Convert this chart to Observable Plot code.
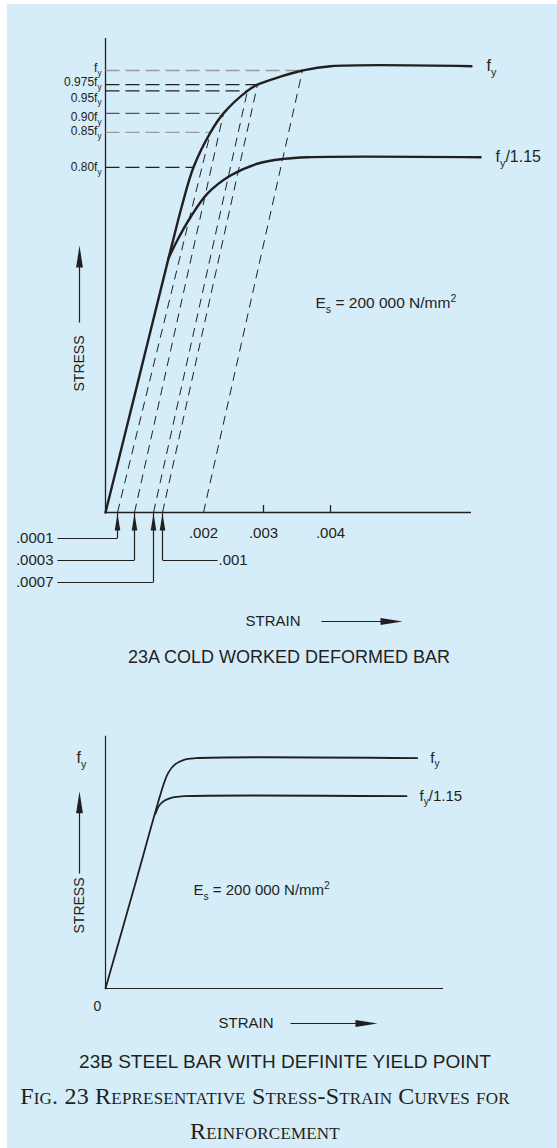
<!DOCTYPE html>
<html><head><meta charset="utf-8">
<script src="https://cdn.jsdelivr.net/npm/d3@7"></script>
<script src="https://cdn.jsdelivr.net/npm/@observablehq/plot@0.6"></script>
<style>
html,body{margin:0;padding:0;background:#fff;}
#page{position:relative;width:557px;height:1148px;overflow:hidden;}
#bg{position:absolute;left:7px;top:4px;width:550px;height:1144px;background:#d5ecf9;}
.chart{position:absolute;left:0;}
.ttl{position:absolute;left:0;text-align:center;font-family:"Liberation Sans",Arial,sans-serif;color:#231f20;white-space:nowrap;}
.cap{position:absolute;left:0;text-align:center;font-family:"Liberation Serif","Times New Roman",serif;font-variant:small-caps;color:#231f20;white-space:nowrap;}
</style></head><body>
<div id="page"><div id="bg"></div>
<div id="chartA" class="chart" style="top:0px"></div>
<div class="ttl" style="top:647px;width:578px;font-size:18px;line-height:20px;">23A COLD WORKED DEFORMED BAR</div>
<div id="chartB" class="chart" style="top:700px"></div>
<div class="ttl" style="top:1051px;width:570px;font-size:19px;line-height:22px;">23B STEEL BAR WITH DEFINITE YIELD POINT</div>
<div class="cap" style="top:1079px;width:530px;font-size:24px;line-height:35px;letter-spacing:0.2px;">Fig. 23 Representative Stress-Strain Curves for<br>Reinforcement</div>
</div>
<script>
// ================= DATA : 23A cold worked deformed bar =================
// strain axis (schematic, unevenly spaced in the drawing)
const aTickStrain = [0.002, 0.003, 0.004];
const aTickLabel  = [".002", ".003", ".004"];
const aTickMarked = [0.003, 0.004];
const aOffsetStrain = [0.0001, 0.0003, 0.0007, 0.001];
const aOffsetLabel  = [".0001", ".0003", ".0007", ".001"];
// stress levels (fraction of the drawn axis height, fy = 1)
const aLevelLabel  = ["f_y", "0.975f_y", "0.95f_y", "0.90f_y", "0.85f_y", "0.80f_y"];
const aLevelStress = [1.0, 0.968, 0.954, 0.903, 0.860, 0.781];
const aLevelStrain = [0.003582, 0.0029, 0.002733, 0.002333, 0.002117, 0.001756];
// curve fy
const aUpperStrain = [0, 0.000353, 0.001146, 0.001256, 0.001463, 0.001756, 0.002117, 0.002333, 0.002733, 0.0029, 0.003254, 0.003582, 0.004, 0.006104];
const aUpperStress = [0, 0.287, 0.575, 0.615, 0.690, 0.781, 0.860, 0.903, 0.954, 0.968, 0.986, 1.0, 1.0097, 1.0097];
// curve fy/1.15
const aLowerStrain = [0.001146, 0.001359, 0.001683, 0.002062, 0.00245, 0.002895, 0.003299, 0.003652, 0.006239];
const aLowerStress = [0.575, 0.6154, 0.668, 0.721, 0.7624, 0.789, 0.800, 0.8038, 0.8038];
// offset (parallel) lines: start strain on axis -> point on the fy curve
const aDiagStart  = [0.0001, 0.0003, 0.0007, 0.001, 0.002];
const aDiagStrain = [0.002117, 0.002333, 0.002733, 0.0029, 0.003582];
const aDiagStress = [0.860, 0.903, 0.954, 0.968, 1.0];
const aCurveLabels = ["f_y", "f_y/1.15"];
const modulusLabel = "E_s = 200 000 N/mm^2";

// ================= DATA : 23B steel bar with definite yield point =================
const bUpperStrain = [0, 0.086, 0.1725, 0.186, 0.205, 0.232, 0.2663, 0.9222];
const bUpperStress = [0, 0.444, 0.8888, 0.9375, 0.972, 0.993, 1.0, 1.0];
const bLowerStrain = [0.1479, 0.1577, 0.1749, 0.1994, 0.2317, 0.8905];
const bLowerStress = [0.7586, 0.792, 0.8159, 0.8302, 0.835, 0.835];

// ================= STYLE =================
const ink = "#231f20";
const font = "'Liberation Sans', Arial, sans-serif";
const levelTone = ["#9a9a9a", ink, ink, "#555555", "#9a9a9a", ink];
const levelNudge = [-2, -2, 7, 4, -1, 0]; // label offsets (px) so labels do not collide

const arrowUp = {draw(ctx) { ctx.moveTo(0, 0); ctx.lineTo(2.8, 17); ctx.lineTo(-2.8, 17); ctx.closePath(); }};
const arrowBig = {draw(ctx) { ctx.moveTo(0, 0); ctx.lineTo(3.4, 22); ctx.lineTo(-3.4, 22); ctx.closePath(); }};

function richify(svg) {
  const ns = "http://www.w3.org/2000/svg";
  svg.querySelectorAll("text").forEach(t => {
    const raw = t.textContent;
    if (!/[_^]/.test(raw)) return;
    const base = parseFloat(getComputedStyle(t).fontSize) || 12;
    const parts = raw.split(/([_^]\w)/).filter(s => s.length);
    t.textContent = "";
    let shift = 0;
    for (const p of parts) {
      const ts = document.createElementNS(ns, "tspan");
      let target = 0;
      if (p.length === 2 && p[0] === "_") { ts.textContent = p[1]; ts.setAttribute("font-size", "68%"); target = 0.3; }
      else if (p.length === 2 && p[0] === "^") { ts.textContent = p[1]; ts.setAttribute("font-size", "68%"); target = -0.42; }
      else ts.textContent = p;
      const d = (target - shift) * base;
      if (d) ts.setAttribute("dy", d.toFixed(2));
      shift = target;
      t.appendChild(ts);
    }
  });
}

// ================= CHART A =================
const aXDomain = [0, 0.0001, 0.0003, 0.0007, 0.001, 0.002, 0.003, 0.004];
const aXRange = [105, 117, 134, 153, 162, 203, 263, 330];
const aYRange = [512, 70];
const ax = d3.scaleLinear().domain(aXDomain).range(aXRange);
const ay = d3.scaleLinear().domain([0, 1]).range(aYRange);
const aAxisEnd = ax.invert(471), aAxisTop = ay.invert(38);

const levels = aLevelLabel.map((l, i) => ({label: l, s: aLevelStress[i], e: aLevelStrain[i], c: levelTone[i], n: levelNudge[i]}));
const upper = aUpperStrain.map((x, i) => ({x, y: aUpperStress[i]}));
const lower = aLowerStrain.map((x, i) => ({x, y: aLowerStress[i]}));
const diags = aDiagStart.map((x, i) => ({x1: x, x2: aDiagStrain[i], y2: aDiagStress[i]}));
const ticks = aTickStrain.map((v, i) => ({v, l: aTickLabel[i]}));
const offRow = [ay.invert(538), ay.invert(560), ay.invert(582), ay.invert(560)];
const offEnd = [ax.invert(57), ax.invert(57), ax.invert(57), ax.invert(217)];
const offs = aOffsetStrain.map((v, i) => ({v, l: aOffsetLabel[i], row: offRow[i], end: offEnd[i], left: i < 3}));

const aStressX = ax.invert(79);
const aStrainY = ay.invert(621);

const chartA = Plot.plot({
  width: 557, height: 640, margin: 0,
  x: {type: "linear", domain: aXDomain, range: aXRange, axis: null},
  y: {type: "linear", domain: [0, 1], range: aYRange, axis: null},
  color: {type: "identity"},
  style: {background: "transparent", fontFamily: font, color: ink, overflow: "visible"},
  marks: [
    // axes
    Plot.ruleY([0], {x1: 0, x2: aAxisEnd, stroke: ink, strokeWidth: 1.3}),
    Plot.ruleX([0], {y1: 0, y2: aAxisTop, stroke: ink, strokeWidth: 1.3}),
    Plot.ruleX(aTickMarked, {y1: 0, y2: ay.invert(505), stroke: ink, strokeWidth: 1.3}),
    Plot.text(ticks, {x: "v", y: 0, text: "l", dy: 21, fontSize: 15, fill: ink}),
    // horizontal level lines
    Plot.link(levels, {x1: 0, x2: "e", y1: "s", y2: "s", stroke: "c", strokeWidth: 1.3, strokeDasharray: "14,6"}),
    // offset lines
    Plot.link(diags, {x1: "x1", y1: 0, x2: "x2", y2: "y2", stroke: ink, strokeWidth: 1, strokeDasharray: "9,6"}),
    // curves
    Plot.line(upper, {x: "x", y: "y", curve: "catmull-rom", stroke: ink, strokeWidth: 2.4}),
    Plot.line(lower, {x: "x", y: "y", curve: "catmull-rom", stroke: ink, strokeWidth: 2.4}),
    // level labels
    ...levels.map(d => Plot.text([d], {x: 0, y: "s", text: "label", textAnchor: "end", dx: -4, dy: d.n, fontSize: 12, fill: ink})),
    Plot.text([{x: aUpperStrain.at(-1), y: aUpperStress.at(-1), t: aCurveLabels[0]}, {x: aLowerStrain.at(-1), y: aLowerStress.at(-1), t: aCurveLabels[1]}],
      {x: "x", y: "y", text: "t", textAnchor: "start", dx: 15, fontSize: 16, fill: ink}),
    // offset arrows & leaders
    Plot.ruleX(offs, {x: "v", y1: 0, y2: "row", stroke: ink, strokeWidth: 1.2}),
    Plot.link(offs, {x1: "v", x2: "end", y1: "row", y2: "row", stroke: ink, strokeWidth: 1.2}),
    Plot.dot(offs, {x: "v", y: 0, symbol: arrowUp, fill: ink, stroke: "none", dy: 1}),
    Plot.text(offs.filter(d => d.left), {x: "end", y: "row", text: "l", textAnchor: "end", dx: -4, fontSize: 15, fill: ink}),
    Plot.text(offs.filter(d => !d.left), {x: "end", y: "row", text: "l", textAnchor: "start", dx: 1, fontSize: 15, fill: ink}),
    // modulus
    Plot.text([modulusLabel], {x: ax.invert(315), y: ay.invert(303), text: d => d, textAnchor: "start", fontSize: 15.5, fill: ink}),
    // stress arrow
    Plot.text(["STRESS"], {x: aStressX, y: ay.invert(363), text: d => d, rotate: -90, fontSize: 14, fill: ink}),
    Plot.link([0], {x1: aStressX, x2: aStressX, y1: ay.invert(322), y2: ay.invert(262), stroke: ink, strokeWidth: 1.2}),
    Plot.dot([0], {x: aStressX, y: ay.invert(245), symbol: arrowBig, fill: ink, stroke: "none"}),
    // strain arrow
    Plot.text(["STRAIN"], {x: ax.invert(245), y: aStrainY, text: d => d, textAnchor: "start", fontSize: 15, fill: ink}),
    Plot.link([0], {x1: ax.invert(321), x2: ax.invert(385), y1: aStrainY, y2: aStrainY, stroke: ink, strokeWidth: 1.2}),
    Plot.dot([0], {x: ax.invert(402), y: aStrainY, symbol: arrowBig, rotate: 90, fill: ink, stroke: "none"})
  ]
});
document.getElementById("chartA").appendChild(chartA);
richify(chartA);

// ================= CHART B =================
const bXRange = [105, 443];
const bYRange = [288, 57.7];
const bx = d3.scaleLinear().domain([0, 1]).range(bXRange);
const by = d3.scaleLinear().domain([0, 1]).range(bYRange);
const bUpper = bUpperStrain.map((x, i) => ({x, y: bUpperStress[i]}));
const bLower = bLowerStrain.map((x, i) => ({x, y: bLowerStress[i]}));
const bStressX = bx.invert(79);
const bStrainY = by.invert(1023 - 700);

const chartB = Plot.plot({
  width: 557, height: 345, margin: 0,
  x: {type: "linear", domain: [0, 1], range: bXRange, axis: null},
  y: {type: "linear", domain: [0, 1], range: bYRange, axis: null},
  style: {background: "transparent", fontFamily: font, color: ink, overflow: "visible"},
  marks: [
    Plot.ruleY([0], {x1: 0, x2: 1, stroke: ink, strokeWidth: 1.2}),
    Plot.ruleX([0], {y1: 0, y2: by.invert(735.7 - 700), stroke: ink, strokeWidth: 1.2}),
    Plot.line(bUpper, {x: "x", y: "y", curve: "catmull-rom", stroke: ink, strokeWidth: 1.8}),
    Plot.line(bLower, {x: "x", y: "y", curve: "catmull-rom", stroke: ink, strokeWidth: 1.8}),
    Plot.text([{x: bUpperStrain.at(-1), y: bUpperStress.at(-1), t: aCurveLabels[0]}, {x: bLowerStrain.at(-1), y: bLowerStress.at(-1), t: aCurveLabels[1]}],
      {x: "x", y: "y", text: "t", textAnchor: "start", dx: 13, fontSize: 15, fill: ink}),
    Plot.text(["f_y"], {x: 0, y: 1, text: d => d, textAnchor: "end", dx: -19, fontSize: 16, fill: ink}),
    Plot.text(["0"], {x: 0, y: 0, text: d => d, dx: -8, dy: 18, fontSize: 14, fill: ink}),
    Plot.text([modulusLabel], {x: bx.invert(193), y: by.invert(890 - 700), text: d => d, textAnchor: "start", fontSize: 15, fill: ink}),
    Plot.text(["STRESS"], {x: bStressX, y: by.invert(905 - 700), text: d => d, rotate: -90, fontSize: 14, fill: ink}),
    Plot.link([0], {x1: bStressX, x2: bStressX, y1: by.invert(873 - 700), y2: by.invert(808 - 700), stroke: ink, strokeWidth: 1.2}),
    Plot.dot([0], {x: bStressX, y: by.invert(790.7 - 700), symbol: arrowBig, fill: ink, stroke: "none"}),
    Plot.text(["STRAIN"], {x: bx.invert(218), y: bStrainY, text: d => d, textAnchor: "start", fontSize: 15, fill: ink}),
    Plot.link([0], {x1: bx.invert(290), x2: bx.invert(360), y1: bStrainY, y2: bStrainY, stroke: ink, strokeWidth: 1.2}),
    Plot.dot([0], {x: bx.invert(377), y: bStrainY, symbol: arrowBig, rotate: 90, fill: ink, stroke: "none"})
  ]
});
document.getElementById("chartB").appendChild(chartB);
richify(chartB);
</script>
</body></html>
